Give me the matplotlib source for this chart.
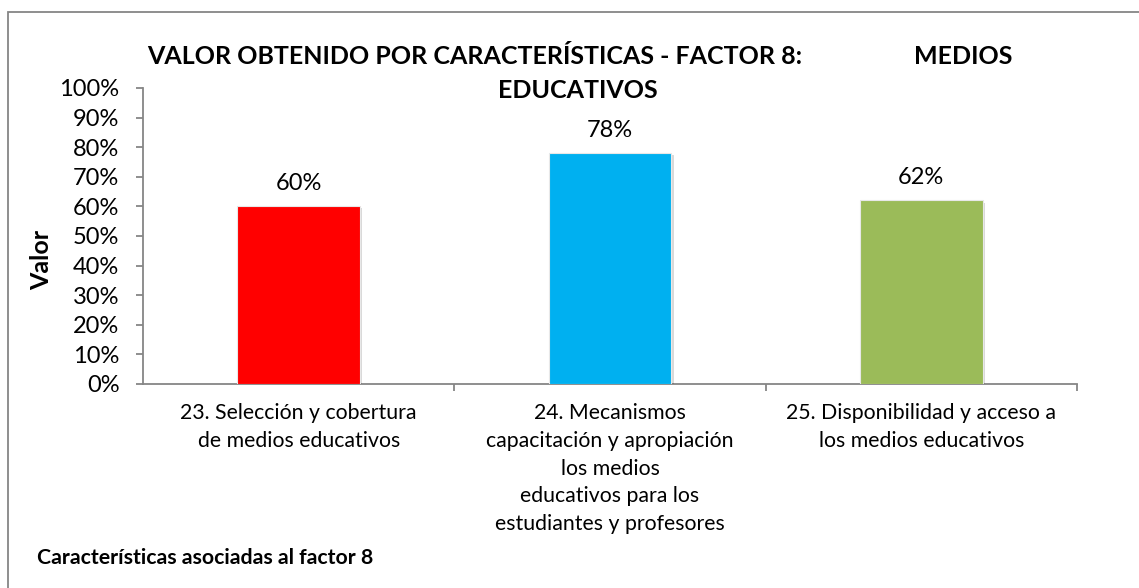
import matplotlib
matplotlib.use("Agg")
import matplotlib.pyplot as plt
import matplotlib.patheffects as pe
from matplotlib.patches import Rectangle
from matplotlib.ticker import PercentFormatter

plt.rcParams['font.family'] = ['Lato', 'DejaVu Sans']

categorias = [
    "23. Selección y cobertura\nde medios educativos",
    "24. Mecanismos\ncapacitación y apropiación\nlos medios\neducativos para los\nestudiantes y profesores",
    "25. Disponibilidad y acceso a\nlos medios educativos",
]
valores = [0.60, 0.78, 0.62]
colores = ["#FF0000", "#00B0F0", "#9BBB59"]
gris = "#868686"

fig = plt.figure(figsize=(11.39, 5.88), dpi=100)
ax = fig.add_axes([143 / 1139, 1 - 384 / 588, (1077 - 143) / 1139, (384 - 88) / 588])

# marco del gráfico
fig.patches.append(Rectangle((8 / 1139, -0.1), 1.2, 1 - 12 / 588 + 0.1,
                             transform=fig.transFigure, fill=False,
                             edgecolor=gris, linewidth=1.3))

x = range(len(valores))
barras = ax.bar(x, valores, width=0.395, color=colores, edgecolor="#e8e8e8",
                linewidth=0.8, zorder=3)
for b in barras:
    b.set_path_effects([pe.SimplePatchShadow(offset=(1.5, -1.5), shadow_rgbFace="#000000", alpha=0.15),
                        pe.Normal()])

for xi, v in zip(x, valores):
    ax.annotate(f"{v:.0%}", (xi, v), xytext=(0, 16.5), textcoords="offset points",
                ha="center", va="center", fontsize=17)

ax.set_xlim(-0.5, 2.5)
ax.set_ylim(0, 1)
ax.set_yticks([i / 10 for i in range(11)])
ax.yaxis.set_major_formatter(PercentFormatter(1.0, decimals=0))
ax.tick_params(axis="y", direction="out", length=5, width=1.3, color=gris,
               labelsize=17, pad=12)

ax.set_xticks(list(x))
ax.set_xticklabels(categorias, fontsize=15.3, linespacing=1.48, va="top")
ax.set_xticks([0.5, 1.5, 2.5], minor=True)
ax.tick_params(axis="x", which="major", length=0, pad=14)
ax.tick_params(axis="x", which="minor", length=5, width=1.3, color=gris, direction="out")

for lado in ["top", "right"]:
    ax.spines[lado].set_visible(False)
for lado in ["left", "bottom"]:
    ax.spines[lado].set_color(gris)
    ax.spines[lado].set_linewidth(1.3)

fig.text(147 / 1139, 1 - 56 / 588, "VALOR OBTENIDO POR CARACTERÍSTICAS - FACTOR 8:",
         fontsize=18, fontweight="bold", ha="left", va="center")
fig.text(963 / 1139, 1 - 56 / 588, "MEDIOS",
         fontsize=18, fontweight="bold", ha="center", va="center")
fig.text(578 / 1139, 1 - 90 / 588, "EDUCATIVOS",
         fontsize=18, fontweight="bold", ha="center", va="center")

fig.text(42 / 1139, 1 - 260 / 588, "Valor", rotation=90, fontsize=18,
         fontweight="bold", ha="center", va="center")
fig.text(37 / 1139, 1 - 558 / 588, "Características asociadas al factor 8",
         fontsize=15.3, fontweight="bold", ha="left", va="center")

fig.savefig("out.png", dpi=100, facecolor="white")
